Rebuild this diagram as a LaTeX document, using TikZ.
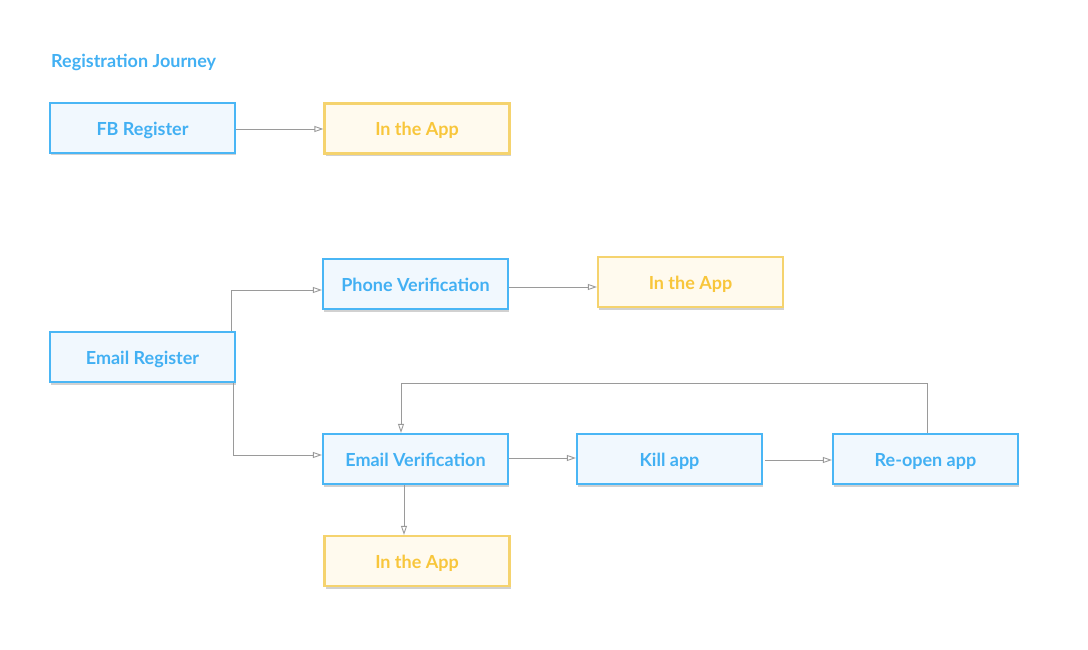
\documentclass[tikz,border=0pt]{standalone}
\usepackage{fontspec}
\setmainfont{Lato}[UprightFont=* Bold]
\usetikzlibrary{arrows.meta,shadows}
\definecolor{bluebd}{HTML}{4AB6F5}
\definecolor{bluefill}{HTML}{F1F8FE}
\definecolor{bluetxt}{HTML}{42B0F3}
\definecolor{yelbd}{HTML}{F5D36E}
\definecolor{yelfill}{HTML}{FFFAEE}
\definecolor{yeltxt}{HTML}{F8C63B}
\definecolor{linegray}{HTML}{9A9A9A}
\begin{document}
\begin{tikzpicture}[x=1pt,y=-1pt,
  box/.style={draw=bluebd,fill=bluefill,line width=2.2pt,minimum width=185pt,minimum height=50pt,inner sep=0pt,text=bluetxt,font=\fontsize{18}{21}\selectfont,
    text height=15pt,text depth=0pt,
    drop shadow={shadow xshift=1pt,shadow yshift=-2.5pt,fill=black!30,opacity=0.6}},
  appbox/.style={box,draw=yelbd,fill=yelfill,text=yeltxt},
  conn/.style={draw=linegray,line width=0.9pt,-{Triangle[open,length=9pt,width=6pt]}}]
\useasboundingbox (0,0) rectangle (1088,650);
\node[anchor=west,text=bluetxt,font=\fontsize{18}{21}\selectfont,inner sep=0pt] (title) at (51,62) {Registration Journey};
\node[box] (fb) at (142.5,128) {FB Register};
\node[appbox] (app1) at (417,128.5) {In the App};
\node[box] (phone) at (415.5,284) {Phone Verification};
\node[appbox] (app2) at (690.5,282) {In the App};
\node[box] (email) at (142.5,357) {Email Register};
\node[box] (ever) at (415.5,459) {Email Verification};
\node[box] (kill) at (669.5,459) {Kill app};
\node[box] (reopen) at (925.5,459) {Re-open app};
\node[appbox] (app3) at (417,561) {In the App};
\draw[conn] (fb.east |- 0,129) -- (app1.west |- 0,129);
\draw[conn] (email.north -| 231,0) |- (phone.west |- 0,290);
\draw[conn] (email.south -| 233,0) |- (ever.west |- 0,455);
\draw[conn] (phone.east |- 0,287) -- (app2.west |- 0,287);
\draw[conn] (ever.east |- 0,458) -- (kill.west |- 0,458);
\draw[conn] (765,460) -- (reopen.west |- 0,460);
\draw[conn] (reopen.north -| 927,0) -- (927,383) -- (401,383) -- (ever.north -| 401,0);
\draw[conn] (ever.south -| 404,0) -- (app3.north -| 404,0);
\end{tikzpicture}
\end{document}
